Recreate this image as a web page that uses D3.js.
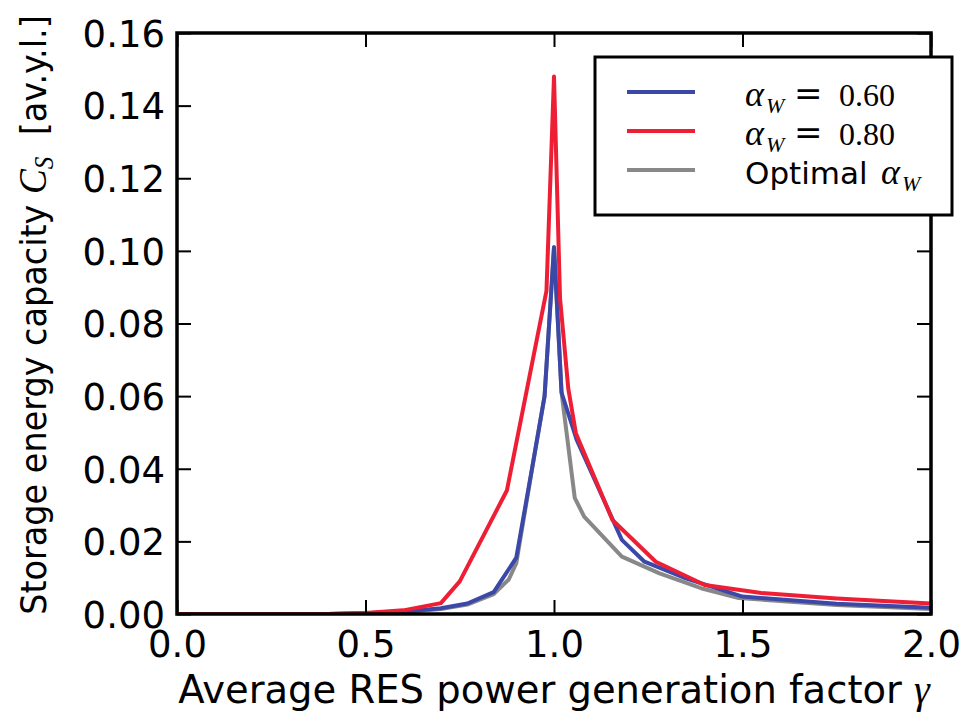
<!DOCTYPE html>
<html>
<head>
<meta charset="utf-8">
<script src="https://cdn.jsdelivr.net/npm/d3@7"></script>
<style>
  body { margin: 0; background: #fff; }
  text { white-space: pre; }
</style>
</head>
<body>
<div id="chart"></div>
<script>
'use strict';

// gamma vs storage capacity C_S
const gammaBlue = [0, 0.1, 0.2, 0.3, 0.4, 0.5, 0.6, 0.7, 0.77, 0.84, 0.9, 0.95, 0.975, 1.0, 1.02, 1.06, 1.18, 1.24, 1.35, 1.5, 1.75, 2.0];
const capBlue   = [0, 0, 0, 0, 0, 0.0002, 0.0006, 0.0016, 0.0029, 0.006, 0.0155, 0.045, 0.06, 0.101, 0.061, 0.048, 0.0204, 0.0144, 0.0098, 0.0048, 0.0028, 0.0017];

const gammaRed = [0, 0.1, 0.2, 0.3, 0.4, 0.5, 0.6, 0.7, 0.75, 0.875, 0.98, 1.0, 1.016, 1.038, 1.058, 1.155, 1.27, 1.4, 1.55, 1.75, 2.0];
const capRed   = [0, 0, 0, 0, 0, 0.0003, 0.001, 0.003, 0.009, 0.034, 0.089, 0.148, 0.087, 0.062, 0.0498, 0.0259, 0.0144, 0.008, 0.0058, 0.0043, 0.0029];

const gammaGray = [0, 0.1, 0.2, 0.3, 0.4, 0.5, 0.6, 0.7, 0.77, 0.84, 0.88, 0.9, 0.95, 0.975, 1.0, 1.02, 1.055, 1.08, 1.18, 1.28, 1.39, 1.49, 1.75, 2.0];
const capGray   = [0, 0, 0, 0, 0, 0.0002, 0.0005, 0.0014, 0.0026, 0.0055, 0.0095, 0.014, 0.045, 0.06, 0.101, 0.061, 0.032, 0.0268, 0.0158, 0.0112, 0.0071, 0.0044, 0.0025, 0.0014];

const xTicks = [0, 0.5, 1.0, 1.5, 2.0];
const yTicks = [0, 0.02, 0.04, 0.06, 0.08, 0.10, 0.12, 0.14, 0.16];
const legendLabels = ["0.60", "0.80", "Optimal"];

const width = 973, height = 715;
const margin = { top: 33, right: 42, bottom: 101, left: 177 };
const innerW = width - margin.left - margin.right;
const innerH = height - margin.top - margin.bottom;

const svg = d3.select("#chart").append("svg")
    .attr("width", width)
    .attr("height", height);

const x = d3.scaleLinear().domain([0, 2]).range([margin.left, margin.left + innerW]);
const y = d3.scaleLinear().domain([0, 0.16]).range([margin.top + innerH, margin.top]);

svg.append("clipPath").attr("id", "plotClip")
    .append("rect")
    .attr("x", margin.left).attr("y", margin.top)
    .attr("width", innerW).attr("height", innerH);

// curves: gray underneath, then blue, then red on top
const series = [
    { g: gammaGray, c: capGray, color: "#888888" },
    { g: gammaBlue, c: capBlue, color: "#3c48a8" },
    { g: gammaRed, c: capRed, color: "#ee1f35" }
];
const line = d3.line().x(d => x(d[0])).y(d => y(d[1]));
const plot = svg.append("g").attr("clip-path", "url(#plotClip)");
series.forEach(s => {
    plot.append("path")
        .datum(s.g.map((g, i) => [g, s.c[i]]))
        .attr("fill", "none")
        .attr("stroke", s.color)
        .attr("stroke-width", 4)
        .attr("stroke-linejoin", "round")
        .attr("d", line);
});

// axes, ticks pointing inward on all four sides
const tickFont = "'DejaVu Sans', sans-serif";
const mathFont = "'Liberation Serif', 'DejaVu Serif', serif";
const tickLen = 14;
const bottomAxis = svg.append("g")
    .attr("transform", "translate(0," + (margin.top + innerH) + ")")
    .call(d3.axisBottom(x).tickValues(xTicks).tickSize(-tickLen).tickFormat(d3.format(".1f")));
const topAxis = svg.append("g")
    .attr("transform", "translate(0," + margin.top + ")")
    .call(d3.axisTop(x).tickValues(xTicks).tickSize(-tickLen).tickFormat(""));
const leftAxis = svg.append("g")
    .attr("transform", "translate(" + margin.left + ",0)")
    .call(d3.axisLeft(y).tickValues(yTicks).tickSize(-tickLen).tickPadding(12).tickFormat(d3.format(".2f")));
const rightAxis = svg.append("g")
    .attr("transform", "translate(" + (margin.left + innerW) + ",0)")
    .call(d3.axisRight(y).tickValues(yTicks).tickSize(-tickLen).tickFormat(""));

[bottomAxis, topAxis, leftAxis, rightAxis].forEach(a => {
    a.select(".domain").remove();
    a.selectAll(".tick line").attr("stroke", "#000").attr("stroke-width", 2);
    a.selectAll(".tick text").attr("font-family", tickFont).attr("font-size", 37).attr("fill", "#000");
});
bottomAxis.selectAll(".tick text").attr("dy", 0).attr("y", 657 - (margin.top + innerH));
leftAxis.selectAll(".tick text").attr("dy", "0.36em");

svg.append("rect")
    .attr("x", margin.left).attr("y", margin.top)
    .attr("width", innerW).attr("height", innerH)
    .attr("fill", "none")
    .attr("stroke", "#000")
    .attr("stroke-width", 3.5);

// axis labels
const xLabel = svg.append("text")
    .attr("x", 554)
    .attr("y", 703)
    .attr("text-anchor", "middle")
    .attr("font-family", tickFont)
    .attr("font-size", 38.5)
    .text("Average RES power generation factor ");
xLabel.append("tspan")
    .attr("font-family", mathFont)
    .attr("font-style", "italic")
    .attr("font-size", 40)
    .text("γ");

// the reference's y label is a little narrower than plain DejaVu, squeeze it along its run
const yLabel = svg.append("text")
    .attr("transform", "translate(46,315) rotate(-90) scale(0.93,1)")
    .attr("text-anchor", "middle")
    .attr("font-family", tickFont)
    .attr("font-size", 36)
    .text("Storage energy capacity ");
yLabel.append("tspan")
    .attr("font-family", mathFont)
    .attr("font-style", "italic")
    .attr("font-size", 40)
    .text("C");
yLabel.append("tspan")
    .attr("font-family", mathFont)
    .attr("font-style", "italic")
    .attr("font-size", 27)
    .attr("dy", 7)
    .text("S");
yLabel.append("tspan")
    .attr("dy", -7)
    .text("  [av.y.l.]");

// legend
const legend = svg.append("g");
legend.append("rect")
    .attr("x", 595).attr("y", 57)
    .attr("width", 357).attr("height", 158)
    .attr("fill", "#fff")
    .attr("stroke", "#000")
    .attr("stroke-width", 3);

const legendColors = ["#3c48a8", "#ee1f35", "#888888"];
const rowY = [92, 131, 170];
legendLabels.forEach((lab, i) => {
    legend.append("line")
        .attr("x1", 627).attr("x2", 695)
        .attr("y1", rowY[i]).attr("y2", rowY[i])
        .attr("stroke", legendColors[i])
        .attr("stroke-width", 4);
    const base = rowY[i] + 14;
    let ax = 745;
    if (lab === "Optimal") {
        legend.append("text")
            .attr("x", 745).attr("y", base)
            .attr("font-family", tickFont).attr("font-size", 31)
            .text("Optimal");
        ax = 881;
    }
    legend.append("text")
        .attr("x", ax).attr("y", base)
        .attr("font-family", mathFont).attr("font-style", "italic").attr("font-size", 36)
        .text("α");
    legend.append("text")
        .attr("x", ax + 21).attr("y", base + 7)
        .attr("font-family", mathFont).attr("font-style", "italic").attr("font-size", 22)
        .text("W");
    if (lab !== "Optimal") {
        legend.append("text")
            .attr("x", 794).attr("y", base - 1)
            .attr("font-family", "'DejaVu Serif', serif").attr("font-size", 34)
            .text("=");
        legend.append("text")
            .attr("x", 839).attr("y", base)
            .attr("font-family", mathFont).attr("font-size", 32)
            .text(lab);
    }
});
</script>
</body>
</html>
